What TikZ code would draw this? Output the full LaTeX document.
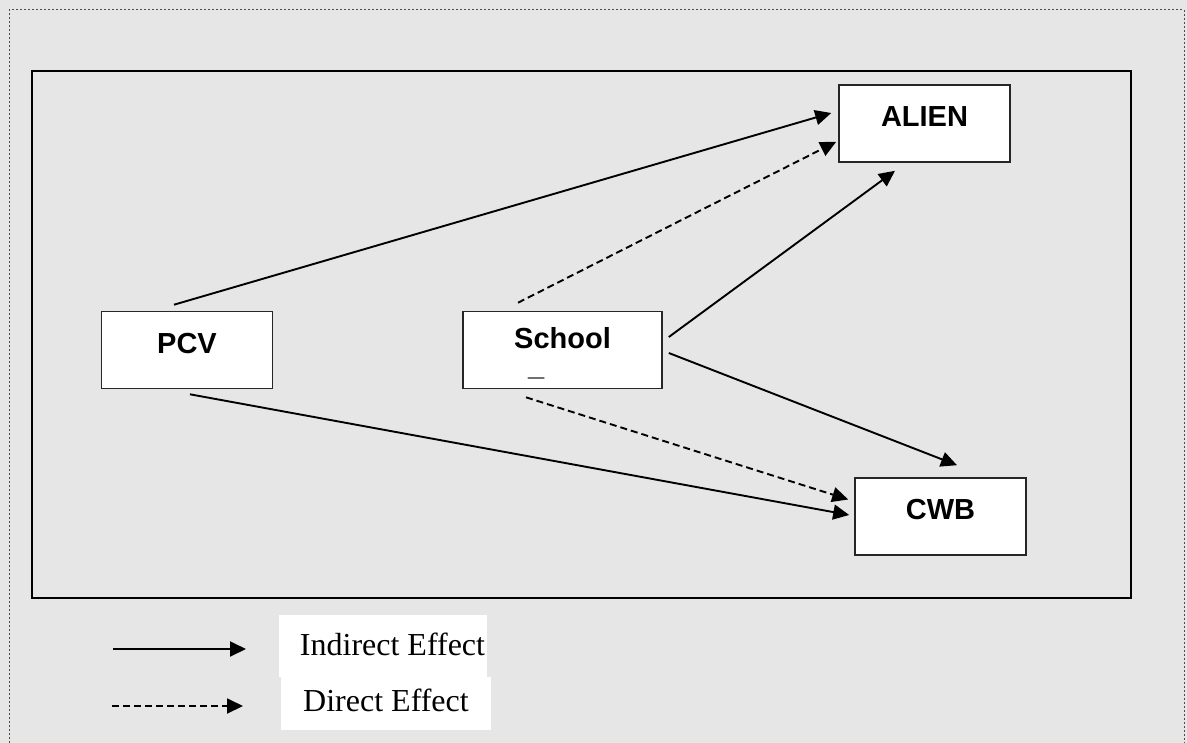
\documentclass[tikz,border=0pt]{standalone}
\usepackage{fontspec}
\setmainfont{Liberation Serif}
\setsansfont{Liberation Sans}
\usetikzlibrary{arrows.meta}
\definecolor{fundo}{RGB}{230,230,230}
\begin{document}
\begin{tikzpicture}[
    x=0.5pt, y=-0.5pt,
    variavel/.style={draw=black!85,fill=white,line width=0.8pt,inner sep=0pt,
        minimum width=85.5pt,minimum height=38.5pt,
        font=\sffamily\bfseries\fontsize{14.5}{17}\selectfont},
    rotulo/.style={text depth=7pt},
    indireto/.style={line width=0.95pt,-{Triangle[length=8pt,width=7.5pt]}},
    direto/.style={indireto,dash pattern=on 3.5pt off 2pt},
    legenda/.style={fill=white,inner sep=0pt,font=\fontsize{16}{19}\selectfont},
    moldura/.style={draw,line width=1.2pt}
]
\useasboundingbox (0,0) rectangle (1187,743);
\fill[fundo] (0,0) rectangle (1187,743);
\draw[black!70,line width=0.5pt,dash pattern=on 1pt off 1pt] (9,743) |- (1184,10) -- (1184,743);
\draw[moldura] (32,71) rectangle (1131,598);

\node[variavel,rotulo] (pcv) at (187,350) {PCV};
\node[variavel,minimum width=99.5pt,align=left] (school) at (562.5,350) {\rule{0pt}{13.6pt}School\\[-3.75pt]\hspace*{7pt}\_};
\node[variavel,rotulo] (alien) at (924.5,123.5) {ALIEN};
\node[variavel,rotulo] (cwb) at (940.5,516.5) {CWB};

\draw[indireto] ([shift={(-13,-6)}]pcv.north) -- ([shift={(-7,-10.5)}]alien.west);
\draw[direto] ([shift={(-44.5,-8)}]school.north) -- ([shift={(-2,-21)}]alien.south west);
\draw[indireto] ([shift={(6,-13)}]school.east) -- ([shift={(-29.5,8)}]alien.south);
\draw[indireto] ([shift={(3,5)}]pcv.south) -- ([shift={(-5,-1.5)}]cwb.west);
\draw[direto] ([shift={(-36.5,8)}]school.south) -- ([shift={(-6,-17)}]cwb.west);
\draw[indireto] ([shift={(6,3)}]school.east) -- ([shift={(16.5,-12)}]cwb.north);

% legenda
\node[legenda,minimum width=104pt,minimum height=31pt,text depth=1.5pt] (indireta) at (383,646) {\hspace*{9.5pt}Indirect Effect};
\node[legenda,minimum width=105pt,minimum height=26.5pt,text depth=3.5pt] (direta) at (386,703.5) {Direct Effect};
\coordinate (indA) at (113,649);
\coordinate (indB) at (246,649);
\coordinate (dirA) at (112,706);
\coordinate (dirB) at (243,706);
\draw[indireto] (indA) -- (indB);
\draw[direto] (dirA) -- (dirB);
\end{tikzpicture}
\end{document}
